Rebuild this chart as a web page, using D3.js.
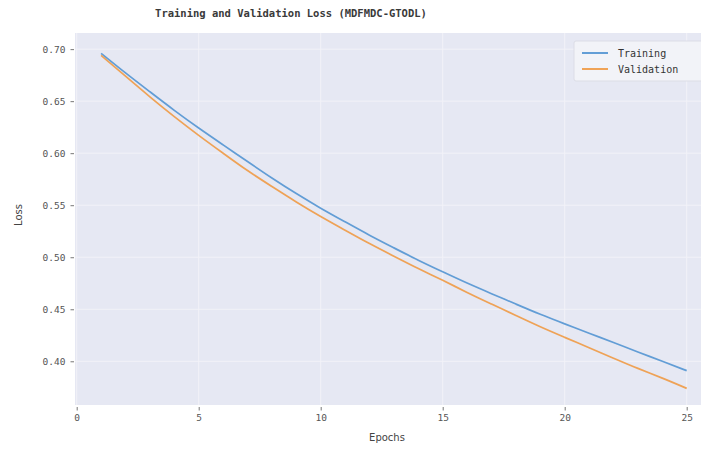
<!DOCTYPE html>
<html>
<head>
<meta charset="utf-8">
<script src="https://cdn.jsdelivr.net/npm/d3@7"></script>
<style>
  body { margin: 0; background: #fff; }
  svg { display: block; }
  .tick text { font-family: "DejaVu Sans Mono", monospace; fill: #555; }
</style>
</head>
<body>
<svg id="lossChart" width="701" height="456"></svg>
<script>
// values
const epochs = [1,2,3,4,5,6,7,8,9,10,11,12,13,14,15,16,17,18,19,20,21,22,23,24,25];
const trainingLoss = [0.696,0.677,0.659,0.641,0.624,0.608,0.592,0.576,0.561,0.547,
  0.534,0.521,0.509,0.497,0.486,0.475,0.465,0.455,0.445,0.436,
  0.427,0.418,0.409,0.400,0.391];
const validationLoss = [0.694,0.674,0.654,0.635,0.617,0.600,0.583,0.568,0.553,0.539,
  0.526,0.513,0.501,0.489,0.478,0.466,0.455,0.444,0.433,0.423,
  0.413,0.403,0.393,0.384,0.374];
const xTicks = [0,5,10,15,20,25];
const yTicks = [0.40,0.45,0.50,0.55,0.60,0.65,0.70];
const seriesNames = ["Training","Validation"];

const svg = d3.select("#lossChart"),
    margin = {top: 33, left: 75},
    plotW = 637,
    plotH = 372;

const colors = {Training: "#4a8fd0", Validation: "#f0953a"};

const x = d3.scaleLinear().domain([0, 26]).range([margin.left + 1.7, margin.left + 1.7 + 26 * 24.4]);
const y = d3.scaleLinear().domain([0.358, 0.7155]).range([margin.top + plotH, margin.top]);

// plot background
svg.append("rect")
    .attr("x", margin.left)
    .attr("y", margin.top)
    .attr("width", plotW)
    .attr("height", plotH)
    .style("fill", "#e6e8f3");

// grid
const grid = svg.append("g");
grid.selectAll(".vg").data(xTicks).enter().append("line")
    .attr("x1", d => x(d)).attr("x2", d => x(d))
    .attr("y1", margin.top).attr("y2", margin.top + plotH)
    .style("stroke", "#f2f2f8").style("stroke-width", 1);
grid.selectAll(".hg").data(yTicks).enter().append("line")
    .attr("x1", margin.left).attr("x2", margin.left + plotW)
    .attr("y1", d => y(d)).attr("y2", d => y(d))
    .style("stroke", "#f2f2f8").style("stroke-width", 1);

// x axis
const xAxis = svg.append("g")
    .attr("transform", "translate(0," + (margin.top + plotH + 2) + ")")
    .call(d3.axisBottom(x).tickValues(xTicks).tickSize(3.5).tickPadding(4).tickFormat(d3.format("d")));
xAxis.select(".domain").remove();
xAxis.selectAll("line").style("stroke", "#777");
xAxis.selectAll("text").style("font-size", "9.5px");

// y axis
const yAxis = svg.append("g")
    .attr("transform", "translate(" + (margin.left - 1) + ",0)")
    .call(d3.axisLeft(y).tickValues(yTicks).tickSize(3.5).tickPadding(5).tickFormat(d3.format(".2f")));
yAxis.select(".domain").remove();
yAxis.selectAll("line").style("stroke", "#777");
yAxis.selectAll("text").style("font-size", "9.5px");

// lines
const line = d3.line()
    .x((d, i) => x(epochs[i]))
    .y(d => y(d))
    .curve(d3.curveBasis);

[trainingLoss, validationLoss].forEach((vals, k) => {
  svg.append("path")
      .datum(vals)
      .attr("d", line)
      .style("fill", "none")
      .style("stroke", colors[seriesNames[k]])
      .style("stroke-width", 1.7)
      .style("stroke-opacity", 0.85);
});

// titles
svg.append("text")
    .attr("x", 291)
    .attr("y", 17)
    .style("text-anchor", "middle")
    .style("font-family", "DejaVu Sans Mono, monospace")
    .style("font-weight", "bold")
    .style("font-size", "10.5px")
    .style("fill", "#3a3a3a")
    .text("Training and Validation Loss (MDFMDC-GTODL)");

svg.append("text")
    .attr("x", 387)
    .attr("y", 441)
    .style("text-anchor", "middle")
    .style("font-family", "DejaVu Sans, sans-serif")
    .style("font-size", "10px")
    .style("fill", "#444")
    .text("Epochs");

svg.append("text")
    .attr("transform", "translate(22,215) rotate(-90)")
    .style("text-anchor", "middle")
    .style("font-family", "DejaVu Sans, sans-serif")
    .style("font-size", "10px")
    .style("fill", "#444")
    .text("Loss");

// legend
const legend = svg.append("g").attr("transform", "translate(574,41)");
legend.append("rect")
    .attr("width", 140).attr("height", 40)
    .attr("rx", 2)
    .style("fill", "#f2f3f8")
    .style("stroke", "#dcdde6");
seriesNames.forEach((name, i) => {
  legend.append("line")
      .attr("x1", 8).attr("x2", 34)
      .attr("y1", 12 + i * 16).attr("y2", 12 + i * 16)
      .style("stroke", colors[name]).style("stroke-width", 1.7);
  legend.append("text")
      .attr("x", 44).attr("y", 15.5 + i * 16)
      .style("font-family", "DejaVu Sans Mono, monospace")
      .style("font-size", "10px")
      .style("fill", "#333")
      .text(name);
});
</script>
</body>
</html>
